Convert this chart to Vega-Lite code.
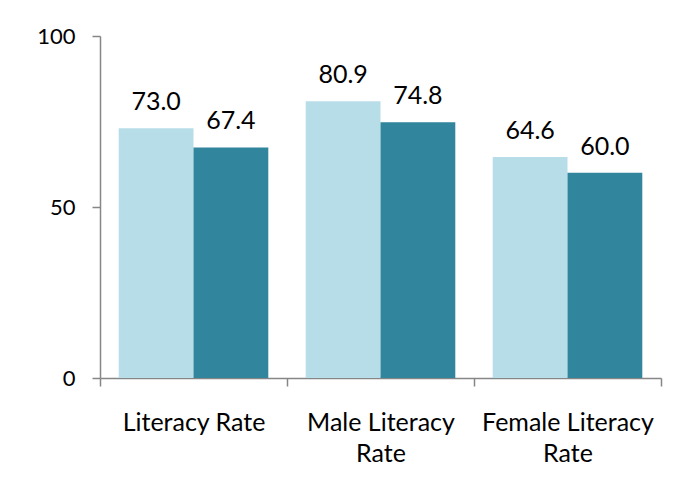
{
  "$schema": "https://vega.github.io/schema/vega-lite/v6.json",
  "autosize": {"type": "none"},
  "width": 561,
  "height": 342,
  "padding": {"left": 100, "top": 36, "right": 22, "bottom": 115},
  "background": "white",
  "config": {
    "view": {"stroke": null},
    "font": "Lato",
    "axis": {"labelFont": "Lato", "labelColor": "#000000", "grid": false}
  },
  "data": {
    "values": [
      {"category": "Literacy Rate", "series": "A", "value": 73.0},
      {"category": "Literacy Rate", "series": "B", "value": 67.4},
      {"category": "Male Literacy Rate", "series": "A", "value": 80.9},
      {"category": "Male Literacy Rate", "series": "B", "value": 74.8},
      {"category": "Female Literacy Rate", "series": "A", "value": 64.6},
      {"category": "Female Literacy Rate", "series": "B", "value": 60.0}
    ]
  },
  "encoding": {
    "x": {
      "field": "category",
      "type": "nominal",
      "sort": ["Literacy Rate", "Male Literacy Rate", "Female Literacy Rate"],
      "scale": {"paddingInner": 0, "paddingOuter": 0},
      "axis": {
        "title": null,
        "labelAngle": 0,
        "labelFontSize": 25,
        "labelPadding": 24,
        "labelLineHeight": 31,
        "labelExpr": "datum.value == null ? '' : datum.value == 'Literacy Rate' ? datum.value : split(replace(datum.value, ' Rate', '|Rate'), '|')",
        "tickBand": "extent",
        "tickSize": 8,
        "tickColor": "#868686",
        "tickWidth": 1.5,
        "domainColor": "#868686",
        "domainWidth": 1.5
      }
    },
    "xOffset": {"field": "series", "type": "nominal", "scale": {"paddingInner": 0, "paddingOuter": 0.25}},
    "y": {
      "field": "value",
      "type": "quantitative",
      "scale": {"domain": [0, 100], "nice": false},
      "axis": {
        "title": null,
        "values": [0, 50, 100],
        "labelFontSize": 22,
        "labelPadding": 17,
        "tickSize": 8,
        "tickColor": "#868686",
        "tickWidth": 1.5,
        "domainColor": "#868686",
        "domainWidth": 1.5
      }
    }
  },
  "layer": [
    {
      "mark": {"type": "bar"},
      "encoding": {
        "color": {
          "field": "series",
          "type": "nominal",
          "scale": {"domain": ["A", "B"], "range": ["#b7dee8", "#31859c"]},
          "legend": null
        }
      }
    },
    {
      "mark": {"type": "text", "dy": -18, "fontSize": 25, "font": "Lato", "color": "#000000", "baseline": "alphabetic"},
      "encoding": {
        "text": {"field": "value", "type": "quantitative", "format": ".1f"}
      }
    }
  ]
}
